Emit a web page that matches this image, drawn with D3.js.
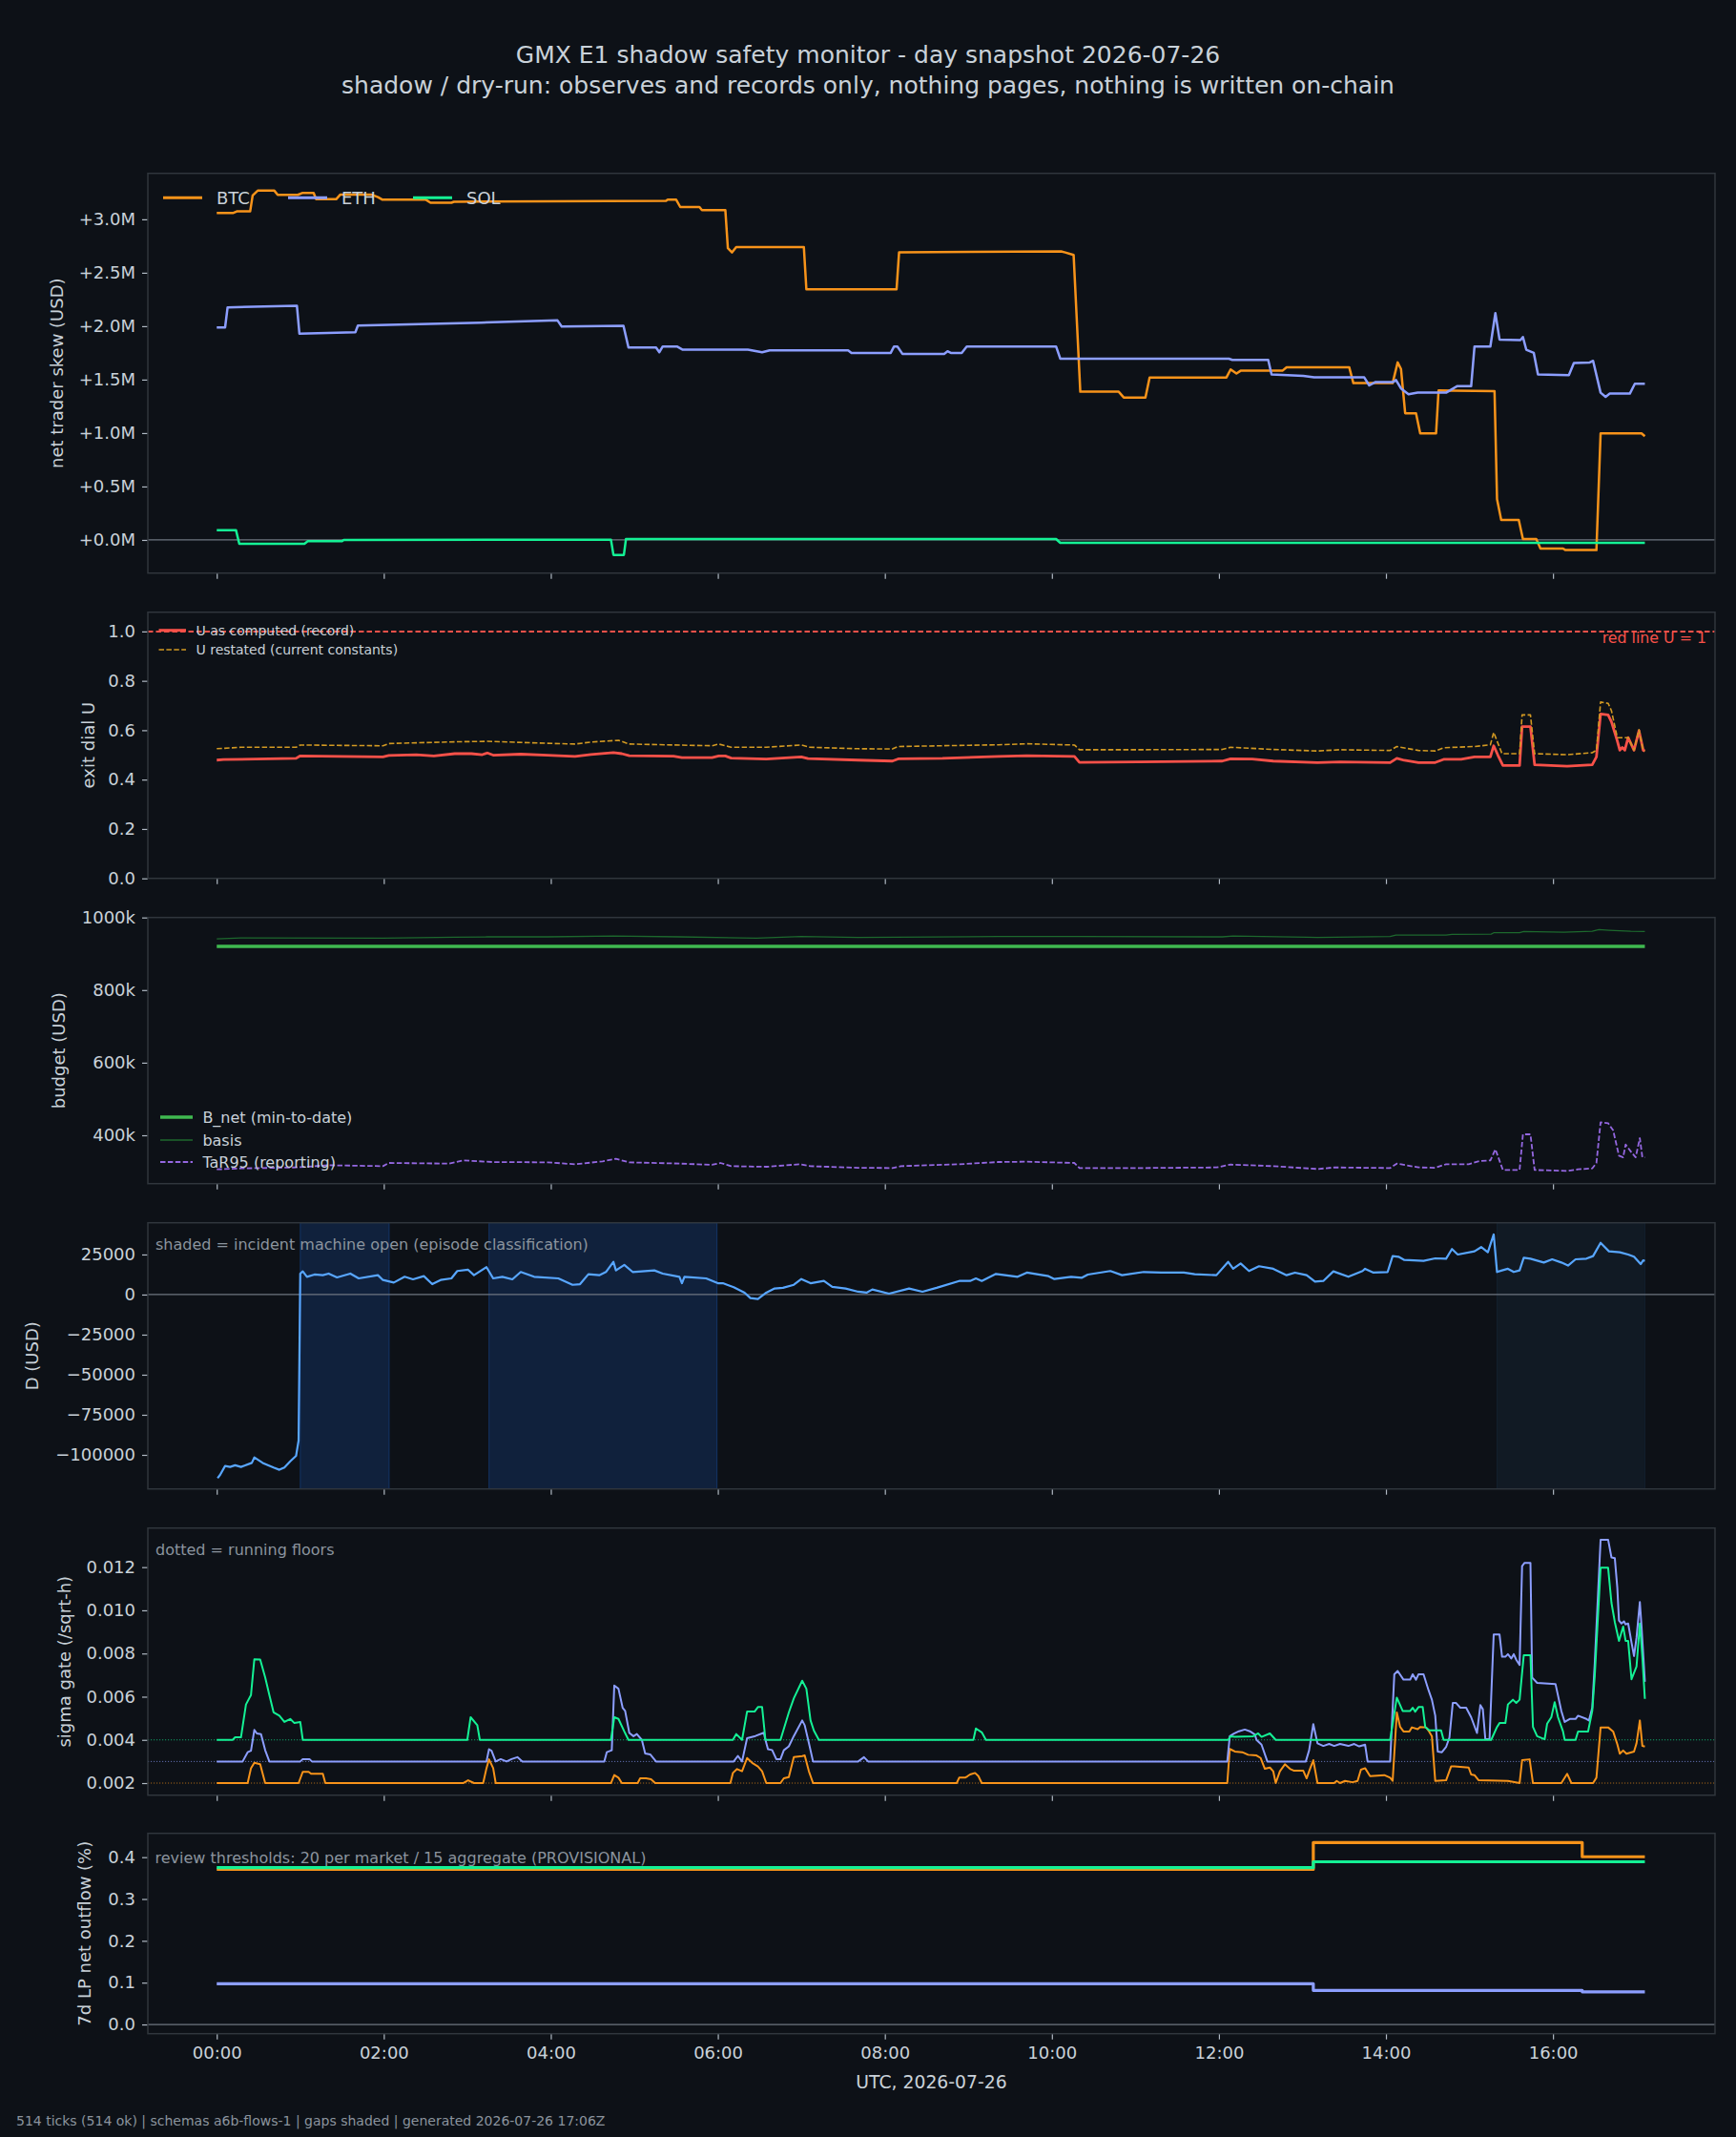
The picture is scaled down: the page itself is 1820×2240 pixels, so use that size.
<!DOCTYPE html>
<html><head><meta charset="utf-8">
<script src="https://cdn.jsdelivr.net/npm/d3@7"></script>
<style>
body{margin:0;background:#0d1117;}
svg{display:block;}
text{font-family:"DejaVu Sans",sans-serif;}
</style>
</head><body>
<svg id="c" width="1820" height="2240"></svg>
<script>
// ---------------- DATA (time in hours UTC, 2026-07-26) ----------------
const hourTicks = [0,2,4,6,8,10,12,14,16];
const hourLabels = ["00:00","02:00","04:00","06:00","08:00","10:00","12:00","14:00","16:00"];
const markets = ["BTC","ETH","SOL"];

// panel 1: net trader skew (millions USD)
const skewBTC = [[0,3.06],[0.20,3.06],[0.24,3.074],[0.40,3.074],[0.43,3.223],[0.49,3.268],[0.69,3.268],[0.73,3.229],[0.97,3.229],[1.03,3.247],[1.16,3.247],[1.19,3.188],[1.43,3.188],[1.48,3.232],[1.85,3.232],[1.93,3.208],[1.98,3.185],[2.50,3.185],[2.56,3.155],[2.81,3.155],[2.84,3.164],[4.0,3.168],[5.38,3.173],[5.40,3.185],[5.50,3.185],[5.55,3.115],[5.78,3.115],[5.81,3.085],[6.09,3.085],[6.12,2.73],[6.17,2.69],[6.22,2.74],[7.03,2.74],[7.06,2.345],[8.14,2.345],[8.17,2.69],[10.11,2.70],[10.16,2.69],[10.26,2.667],[10.34,1.387],[10.80,1.387],[10.86,1.333],[11.12,1.333],[11.17,1.52],[12.09,1.52],[12.14,1.595],[12.21,1.557],[12.26,1.583],[12.76,1.583],[12.81,1.616],[13.56,1.616],[13.61,1.467],[14.08,1.467],[14.14,1.661],[14.18,1.60],[14.23,1.185],[14.36,1.185],[14.41,0.997],[14.60,0.997],[14.63,1.399],[15.30,1.393],[15.33,0.381],[15.38,0.188],[15.59,0.188],[15.64,0.009],[15.80,0.009],[15.85,-0.08],[16.12,-0.08],[16.15,-0.095],[16.52,-0.095],[16.57,0.997],[17.06,0.997],[17.10,0.970]];
const skewETH = [[0,1.988],[0.10,1.988],[0.13,2.176],[0.96,2.190],[0.99,1.929],[1.66,1.943],[1.69,2.006],[3.16,2.033],[4.08,2.054],[4.13,1.997],[4.87,2.003],[4.93,1.801],[5.26,1.801],[5.30,1.756],[5.34,1.810],[5.51,1.810],[5.58,1.780],[6.36,1.780],[6.53,1.756],[6.62,1.774],[7.56,1.774],[7.60,1.750],[8.07,1.750],[8.11,1.810],[8.15,1.810],[8.21,1.741],[8.71,1.741],[8.75,1.765],[8.79,1.750],[8.92,1.750],[8.98,1.810],[10.05,1.810],[10.10,1.696],[12.12,1.696],[12.16,1.685],[12.59,1.685],[12.63,1.548],[13.01,1.536],[13.14,1.521],[13.74,1.521],[13.80,1.446],[13.87,1.476],[14.08,1.476],[14.12,1.497],[14.18,1.417],[14.27,1.363],[14.38,1.378],[14.72,1.378],[14.85,1.438],[15.02,1.438],[15.06,1.810],[15.25,1.810],[15.31,2.122],[15.36,1.875],[15.61,1.869],[15.64,1.899],[15.68,1.780],[15.77,1.750],[15.82,1.548],[16.19,1.542],[16.25,1.655],[16.44,1.661],[16.48,1.676],[16.57,1.378],[16.63,1.339],[16.68,1.369],[16.92,1.369],[16.98,1.461],[17.10,1.461]];
const skewSOL = [[0,0.092],[0.23,0.092],[0.27,-0.036],[1.05,-0.036],[1.09,-0.012],[1.50,-0.012],[1.52,0.0],[4.72,0.003],[4.75,-0.14],[4.875,-0.14],[4.90,0.009],[10.05,0.009],[10.10,-0.027],[17.10,-0.027]];
const skewTicks = [0,0.5,1.0,1.5,2.0,2.5,3.0];

// panel 2: exit dial U
const uRecord = [[0,0.479],[0.08,0.481],[0.95,0.486],[1.0,0.496],[1.99,0.492],[2.06,0.498],[2.39,0.501],[2.6,0.496],[2.85,0.505],[3.05,0.505],[3.18,0.501],[3.24,0.508],[3.31,0.499],[3.64,0.503],[3.96,0.499],[4.29,0.494],[4.48,0.502],[4.75,0.509],[4.85,0.505],[4.94,0.497],[5.47,0.495],[5.57,0.489],[5.93,0.489],[6.01,0.496],[6.09,0.496],[6.16,0.487],[6.58,0.483],[7.0,0.492],[7.08,0.485],[7.68,0.479],[8.09,0.475],[8.16,0.484],[8.69,0.486],[9.36,0.494],[9.70,0.497],[10.27,0.494],[10.33,0.470],[11.03,0.472],[12.04,0.475],[12.14,0.484],[12.40,0.483],[12.65,0.475],[13.18,0.469],[13.45,0.472],[14.05,0.469],[14.13,0.486],[14.22,0.478],[14.39,0.469],[14.59,0.469],[14.69,0.482],[14.90,0.482],[15.06,0.492],[15.25,0.492],[15.29,0.537],[15.34,0.499],[15.40,0.457],[15.60,0.457],[15.63,0.615],[15.73,0.615],[15.78,0.460],[16.17,0.454],[16.47,0.460],[16.52,0.492],[16.57,0.666],[16.66,0.662],[16.70,0.634],[16.77,0.557],[16.80,0.519],[16.83,0.530],[16.86,0.519],[16.90,0.570],[16.97,0.519],[17.03,0.598],[17.08,0.519],[17.10,0.516]];
const uRestated = [[0,0.525],[0.29,0.531],[0.95,0.531],[1.0,0.540],[1.99,0.537],[2.06,0.546],[2.85,0.553],[3.24,0.555],[3.96,0.547],[4.29,0.544],[4.48,0.552],[4.81,0.559],[4.94,0.544],[5.93,0.537],[6.01,0.544],[6.16,0.531],[6.58,0.531],[7.0,0.540],[7.1,0.531],[7.68,0.525],[8.09,0.524],[8.16,0.534],[9.36,0.541],[9.70,0.545],[10.27,0.540],[10.33,0.521],[11.03,0.521],[12.04,0.522],[12.14,0.531],[12.65,0.522],[13.18,0.516],[13.45,0.521],[14.05,0.518],[14.13,0.534],[14.39,0.518],[14.59,0.516],[14.69,0.529],[15.06,0.534],[15.25,0.541],[15.29,0.591],[15.39,0.505],[15.60,0.505],[15.63,0.662],[15.73,0.662],[15.78,0.505],[16.17,0.501],[16.47,0.509],[16.52,0.519],[16.57,0.714],[16.66,0.709],[16.70,0.679],[16.77,0.570],[16.90,0.570],[16.97,0.519],[17.03,0.602],[17.08,0.519],[17.10,0.516]];
const uRedLine = 1.0;
const uTicks = [0,0.2,0.4,0.6,0.8,1.0];

// panel 3: budget (thousands USD)
const bNet = [[0,920.3],[17.10,920.3]];
const basis = [[0,941.3],[0.29,943.9],[1.99,943.0],[2.85,945.7],[3.24,946.6],[3.96,946.6],[4.75,949.2],[5.54,946.6],[6.46,943.0],[7.0,947.4],[7.68,944.8],[9.36,947.4],[10.29,947.4],[12.04,946.6],[12.17,949.2],[13.05,945.7],[13.18,944.8],[14.05,947.4],[14.12,951.8],[14.72,951.8],[14.79,953.5],[15.26,954.4],[15.29,957.9],[15.60,957.9],[15.65,961.5],[16.13,959.7],[16.47,962.3],[16.55,966.7],[16.67,964.9],[16.93,962.3],[17.10,961.5]];
const tar95 = [[0,306.2],[0.29,308.8],[0.95,311.5],[1.34,317.6],[1.99,315.0],[2.06,323.8],[2.78,322.1],[2.95,330.8],[3.30,326.4],[3.96,325.5],[4.29,320.3],[4.62,328.2],[4.78,335.2],[4.94,325.5],[5.54,322.1],[5.93,318.6],[6.03,323.8],[6.16,315.0],[6.58,313.3],[6.98,320.3],[7.11,315.0],[7.68,310.6],[8.09,309.8],[8.19,315.0],[8.89,320.3],[9.36,326.4],[9.70,327.3],[10.27,323.8],[10.33,309.8],[11.03,309.8],[11.97,311.5],[12.14,319.4],[12.65,315.0],[13.18,307.1],[13.38,311.5],[14.05,309.8],[14.13,322.1],[14.39,311.5],[14.59,310.6],[14.72,320.3],[14.99,320.3],[15.12,329.1],[15.25,330.8],[15.31,361.5],[15.40,304.5],[15.60,304.5],[15.64,402.7],[15.73,402.7],[15.78,304.5],[16.17,301.8],[16.30,306.2],[16.47,308.8],[16.52,323.8],[16.57,435.9],[16.66,433.3],[16.72,414.0],[16.79,343.9],[16.84,339.5],[16.87,374.6],[16.94,352.7],[16.99,339.5],[17.04,392.1],[17.07,339.5],[17.10,339.5]];
const budgetTicks = [400,600,800,1000];

// panel 4: D (USD)
const dUsd = [[0.01,-114500],[0.04,-112500],[0.10,-106900],[0.16,-107500],[0.22,-106500],[0.29,-107500],[0.42,-105000],[0.45,-101600],[0.55,-105000],[0.68,-107900],[0.75,-109300],[0.81,-107900],[0.88,-104000],[0.95,-100600],[0.98,-91100],[1.00,13100],[1.03,14500],[1.08,11100],[1.17,12500],[1.27,12100],[1.34,13100],[1.44,10700],[1.60,13100],[1.70,10100],[1.93,12100],[1.99,9100],[2.12,7500],[2.25,11100],[2.35,9500],[2.48,11500],[2.58,6500],[2.68,9100],[2.81,10100],[2.88,14700],[3.01,15500],[3.08,12100],[3.23,17100],[3.31,10100],[3.42,11100],[3.54,9500],[3.64,14100],[3.80,11100],[4.09,10100],[4.26,6100],[4.35,6500],[4.45,12700],[4.58,12100],[4.66,14100],[4.75,20400],[4.78,15100],[4.88,18500],[4.98,14100],[5.24,15100],[5.34,13100],[5.54,11100],[5.57,7100],[5.60,11100],[5.86,10100],[6.00,7100],[6.06,7100],[6.19,4600],[6.32,1200],[6.39,-2200],[6.48,-2800],[6.58,1200],[6.68,3800],[6.78,4200],[6.91,6100],[7.00,9700],[7.11,7100],[7.27,8500],[7.37,4800],[7.53,3800],[7.68,1800],[7.78,1200],[7.85,3200],[8.05,600],[8.29,3800],[8.45,1800],[8.62,4200],[8.89,8500],[9.02,8500],[9.09,10100],[9.16,8500],[9.33,12900],[9.59,11100],[9.70,13700],[9.96,11500],[10.03,9700],[10.23,11100],[10.36,10500],[10.43,12500],[10.70,14700],[10.84,12100],[11.10,14100],[11.31,13700],[11.58,13700],[11.71,12700],[11.97,12100],[12.11,20400],[12.17,16100],[12.26,19400],[12.36,14700],[12.48,17700],[12.65,16100],[12.81,12100],[12.91,13700],[13.05,12100],[13.15,8100],[13.25,8500],[13.37,14500],[13.55,11100],[13.72,14700],[13.75,16100],[13.85,13700],[14.02,14100],[14.08,24000],[14.15,23600],[14.22,21600],[14.45,21000],[14.59,22600],[14.72,22400],[14.79,28400],[14.86,25000],[15.06,27000],[15.14,29600],[15.22,26400],[15.29,37500],[15.33,14100],[15.39,15100],[15.46,16100],[15.53,14100],[15.60,15100],[15.65,23000],[15.73,22400],[15.89,20000],[15.99,22000],[16.10,20000],[16.18,18100],[16.27,22000],[16.40,22400],[16.48,24000],[16.57,32300],[16.67,27000],[16.80,26400],[16.90,25000],[16.97,23600],[17.05,19000],[17.08,21400],[17.10,21000]];
const dTicks = [-100000,-75000,-50000,-25000,0,25000];
const incidentEpisodes = [[1.0,2.065],[3.26,5.99]];
const openEpisodes = [[15.33,17.10]];

// panel 5: sigma gate (/sqrt-h)
const sigmaBTC = [[0,0.002],[0.37,0.002],[0.41,0.00269],[0.45,0.00294],[0.52,0.00287],[0.58,0.002],[0.98,0.002],[1.03,0.00252],[1.10,0.00252],[1.13,0.00243],[1.27,0.00243],[1.30,0.002],[2.95,0.002],[3.01,0.00213],[3.08,0.002],[3.19,0.002],[3.23,0.00269],[3.26,0.0031],[3.31,0.00269],[3.34,0.002],[4.72,0.002],[4.76,0.00237],[4.81,0.00225],[4.85,0.002],[5.04,0.002],[5.07,0.00222],[5.14,0.00222],[5.20,0.00218],[5.25,0.002],[6.15,0.002],[6.18,0.00247],[6.23,0.00265],[6.29,0.00255],[6.35,0.00316],[6.42,0.00291],[6.48,0.00277],[6.53,0.00255],[6.58,0.002],[6.75,0.002],[6.79,0.00222],[6.85,0.00228],[6.91,0.00321],[7.01,0.00325],[7.04,0.00328],[7.09,0.00255],[7.14,0.002],[8.86,0.002],[8.89,0.00225],[8.96,0.00225],[8.99,0.00232],[9.02,0.0024],[9.08,0.00247],[9.12,0.00232],[9.16,0.002],[12.10,0.002],[12.13,0.00358],[12.19,0.00346],[12.28,0.00343],[12.35,0.00331],[12.45,0.00328],[12.50,0.00316],[12.55,0.00266],[12.61,0.00272],[12.65,0.00255],[12.68,0.002],[12.73,0.00255],[12.79,0.00287],[12.85,0.00266],[12.90,0.00257],[13.01,0.00257],[13.05,0.00222],[13.08,0.00255],[13.13,0.00306],[13.18,0.002],[13.38,0.002],[13.41,0.0021],[13.45,0.002],[13.51,0.0021],[13.60,0.00204],[13.66,0.0021],[13.70,0.00262],[13.75,0.00269],[13.81,0.00232],[13.98,0.00237],[14.05,0.00225],[14.08,0.0021],[14.13,0.00527],[14.17,0.0046],[14.21,0.00439],[14.28,0.00439],[14.31,0.00458],[14.38,0.0045],[14.41,0.0046],[14.48,0.00458],[14.51,0.00443],[14.55,0.00417],[14.59,0.0021],[14.72,0.00213],[14.78,0.00277],[14.82,0.00277],[14.99,0.00272],[15.02,0.0024],[15.06,0.00237],[15.11,0.00213],[15.46,0.0021],[15.60,0.002],[15.63,0.00306],[15.72,0.0031],[15.76,0.002],[16.10,0.002],[16.17,0.00243],[16.22,0.002],[16.48,0.002],[16.52,0.00225],[16.57,0.00458],[16.66,0.00458],[16.72,0.00439],[16.77,0.0038],[16.80,0.00336],[16.84,0.00351],[16.88,0.00336],[16.97,0.00346],[17.00,0.00384],[17.04,0.0049],[17.07,0.00372],[17.10,0.00369]];
const sigmaETH = [[0,0.003],[0.31,0.003],[0.37,0.00343],[0.41,0.0035],[0.45,0.00446],[0.48,0.0043],[0.53,0.00427],[0.58,0.00352],[0.63,0.003],[1.0,0.003],[1.03,0.00311],[1.11,0.00311],[1.14,0.003],[3.23,0.003],[3.26,0.00357],[3.29,0.0035],[3.34,0.003],[3.40,0.00311],[3.47,0.003],[3.53,0.00311],[3.60,0.0032],[3.66,0.003],[4.64,0.003],[4.67,0.00343],[4.73,0.00352],[4.76,0.00652],[4.81,0.00637],[4.86,0.00549],[4.89,0.00534],[4.94,0.00432],[4.99,0.00417],[5.03,0.00427],[5.09,0.004],[5.13,0.00337],[5.19,0.00333],[5.26,0.003],[6.19,0.003],[6.24,0.00326],[6.29,0.003],[6.35,0.00408],[6.45,0.00418],[6.55,0.00433],[6.57,0.004],[6.60,0.00357],[6.65,0.00353],[6.70,0.00311],[6.75,0.00311],[6.79,0.00352],[6.85,0.0037],[6.91,0.00418],[7.01,0.0049],[7.04,0.00468],[7.09,0.00386],[7.14,0.003],[7.68,0.003],[7.75,0.0032],[7.80,0.003],[12.10,0.003],[12.13,0.00417],[12.18,0.00429],[12.24,0.0044],[12.31,0.00448],[12.37,0.0044],[12.43,0.00425],[12.45,0.004],[12.51,0.00378],[12.58,0.003],[13.04,0.003],[13.08,0.00352],[13.13,0.00473],[13.18,0.00384],[13.25,0.00372],[13.32,0.00381],[13.38,0.00372],[13.45,0.00381],[13.55,0.00372],[13.62,0.00381],[13.68,0.0037],[13.75,0.00378],[13.78,0.003],[14.05,0.003],[14.10,0.00704],[14.14,0.00719],[14.21,0.00679],[14.29,0.00679],[14.32,0.00704],[14.36,0.00679],[14.39,0.00704],[14.45,0.00704],[14.51,0.0063],[14.55,0.00586],[14.59,0.00512],[14.62,0.00346],[14.67,0.00343],[14.72,0.00367],[14.76,0.00411],[14.80,0.00571],[14.84,0.00571],[14.89,0.00549],[14.96,0.00549],[15.02,0.00505],[15.09,0.00432],[15.13,0.00561],[15.16,0.00542],[15.19,0.00403],[15.24,0.00403],[15.29,0.00888],[15.36,0.00888],[15.39,0.00785],[15.43,0.00785],[15.46,0.00797],[15.50,0.00777],[15.53,0.00797],[15.56,0.00771],[15.60,0.00747],[15.63,0.01205],[15.66,0.0122],[15.73,0.0122],[15.75,0.00689],[15.81,0.00664],[16.03,0.00659],[16.10,0.00534],[16.14,0.00483],[16.20,0.00497],[16.27,0.00497],[16.30,0.00512],[16.40,0.00497],[16.43,0.0049],[16.47,0.00549],[16.50,0.00755],[16.57,0.01327],[16.66,0.01327],[16.70,0.01245],[16.74,0.01242],[16.77,0.01105],[16.79,0.00953],[16.82,0.00939],[16.85,0.00949],[16.87,0.00935],[16.90,0.00939],[16.94,0.00851],[16.97,0.00788],[17.00,0.00873],[17.04,0.01038],[17.06,0.00925],[17.10,0.00669]];
const sigmaSOL = [[0,0.004],[0.19,0.004],[0.22,0.00412],[0.29,0.00412],[0.35,0.00564],[0.41,0.00608],[0.45,0.00773],[0.52,0.00772],[0.58,0.00689],[0.63,0.00608],[0.68,0.00528],[0.75,0.00512],[0.81,0.00483],[0.88,0.00497],[0.93,0.00478],[1.0,0.00483],[1.03,0.004],[3.0,0.004],[3.04,0.00505],[3.12,0.00468],[3.15,0.004],[4.72,0.004],[4.76,0.00505],[4.81,0.00497],[4.88,0.00439],[4.93,0.004],[6.18,0.004],[6.22,0.00427],[6.29,0.004],[6.35,0.00531],[6.44,0.00531],[6.48,0.00552],[6.53,0.00552],[6.57,0.004],[6.75,0.004],[6.85,0.00527],[6.91,0.00593],[7.01,0.00674],[7.06,0.00637],[7.11,0.0049],[7.15,0.00443],[7.21,0.004],[9.06,0.004],[9.09,0.00453],[9.16,0.00435],[9.21,0.004],[12.11,0.004],[12.14,0.00417],[12.19,0.00414],[12.41,0.00417],[12.47,0.0043],[12.51,0.00414],[12.61,0.0043],[12.68,0.004],[14.05,0.004],[14.13,0.00596],[14.20,0.00534],[14.29,0.00534],[14.32,0.00549],[14.35,0.00531],[14.39,0.00552],[14.44,0.00552],[14.47,0.0046],[14.52,0.00444],[14.66,0.00444],[14.69,0.004],[15.26,0.004],[15.33,0.0046],[15.36,0.00478],[15.43,0.00478],[15.46,0.00564],[15.52,0.00586],[15.56,0.00571],[15.60,0.00586],[15.65,0.00792],[15.73,0.00792],[15.76,0.0046],[15.81,0.00417],[15.90,0.00403],[15.93,0.00475],[15.98,0.00505],[16.02,0.00575],[16.06,0.00505],[16.12,0.00439],[16.14,0.004],[16.27,0.004],[16.30,0.00439],[16.42,0.00439],[16.47,0.00534],[16.50,0.00696],[16.57,0.01197],[16.66,0.01197],[16.70,0.01035],[16.74,0.00946],[16.79,0.00858],[16.84,0.00925],[16.87,0.00858],[16.90,0.00858],[16.94,0.00681],[17.00,0.0074],[17.04,0.00939],[17.07,0.00785],[17.10,0.0059]];
const sigmaFloors = [0.002,0.003,0.004]; // BTC, ETH, SOL running floors
const sigmaTicks = [0.002,0.004,0.006,0.008,0.010,0.012];

// panel 6: 7d LP net outflow (%)
const outflowBTC = [[0,0.371],[13.13,0.435],[16.35,0.401],[17.10,0.401]];
const outflowETH = [[0,0.0975],[13.13,0.0815],[16.35,0.078],[17.10,0.078]];
const outflowSOL = [[0,0.375],[13.13,0.389],[17.10,0.389]];
const outflowTicks = [0,0.1,0.2,0.3,0.4];

// ---------------- STYLE / LAYOUT ----------------
const BG="#0d1117", SPINE="#30363d", TXT="#c9d1d9", MUTED="#8b949e", ZERO="#6e7681";
const C = {BTC:"#f7931a", ETH:"#8c9eff", SOL:"#14f195"};
const FONT_TICK=18;
const svg = d3.select("#c");
svg.append("rect").attr("width",1820).attr("height",2240).attr("fill",BG);

const X0=155, X1=1798;
const x = d3.scaleLinear().domain([-0.825,17.94]).range([X0,X1]);

const panels = [
  {top:181.7,bottom:600.7,dom:[-0.31,3.43],ticks:skewTicks,fmt:d=>"+"+d.toFixed(1)+"M",label:"net trader skew (USD)",lx:66},
  {top:641.7,bottom:920.7,dom:[0,1.078],ticks:uTicks,fmt:d=>d.toFixed(1),label:"exit dial U",lx:98.5},
  {top:961.7,bottom:1240.7,dom:[266.8,1000],ticks:budgetTicks,fmt:d=>d+"k",label:"budget (USD)",lx:68},
  {top:1281.7,bottom:1560.7,dom:[-121250,44800],ticks:dTicks,fmt:d=>d<0?"\u2212"+Math.abs(d):String(d),label:"D (USD)",lx:39.5},
  {top:1601.7,bottom:1881.7,dom:[0.00144,0.01381],ticks:sigmaTicks,fmt:d=>d.toFixed(3),label:"sigma gate (/sqrt-h)",lx:74},
  {top:1921.7,bottom:2131.7,dom:[-0.022,0.457],ticks:outflowTicks,fmt:d=>d.toFixed(1),label:"7d LP net outflow (%)",lx:94.5}
];

const defs = svg.append("defs");
panels.forEach((p,i)=>{
  p.y = d3.scaleLinear().domain(p.dom).range([p.bottom,p.top]);
  defs.append("clipPath").attr("id","clip"+i).append("rect")
    .attr("x",X0).attr("y",p.top).attr("width",X1-X0).attr("height",p.bottom-p.top);
  p.g = svg.append("g");
  p.plot = p.g.append("g").attr("clip-path",`url(#clip${i})`);
});

function line(p, data, color, w, opts={}){
  const gen = d3.line().x(d=>x(d[0])).y(d=>p.y(d[1])).curve(opts.curve||d3.curveLinear);
  return p.plot.append("path").datum(data).attr("d",gen).attr("fill","none")
    .attr("stroke",color).attr("stroke-width",w)
    .attr("stroke-linejoin","round").attr("stroke-linecap",opts.cap||"butt")
    .attr("stroke-dasharray",opts.dash||null).attr("opacity",opts.op==null?1:opts.op);
}
function hline(p, v, color, w, dash, op){
  p.plot.append("line").attr("x1",X0).attr("x2",X1).attr("y1",p.y(v)).attr("y2",p.y(v))
    .attr("stroke",color).attr("stroke-width",w).attr("stroke-dasharray",dash||null).attr("opacity",op==null?1:op);
}

// --- panel 4 shading (behind)
const p4 = panels[3];
incidentEpisodes.forEach(e=>{
  p4.plot.append("rect").attr("x",x(e[0])).attr("width",x(e[1])-x(e[0]))
    .attr("y",p4.top).attr("height",p4.bottom-p4.top)
    .attr("fill","#1f6feb").attr("fill-opacity",0.18)
    .attr("stroke","#1f6feb").attr("stroke-opacity",0.3).attr("stroke-width",1);
});
openEpisodes.forEach(e=>{
  p4.plot.append("rect").attr("x",x(e[0])).attr("width",x(e[1])-x(e[0]))
    .attr("y",p4.top).attr("height",p4.bottom-p4.top)
    .attr("fill","#58a6ff").attr("fill-opacity",0.06)
    .attr("stroke","#58a6ff").attr("stroke-opacity",0.08).attr("stroke-width",1);
});

// --- panel 1
const p1 = panels[0];
hline(p1,0,ZERO,1.2);
line(p1,skewBTC,C.BTC,2.5);
line(p1,skewETH,C.ETH,2.5);
line(p1,skewSOL,C.SOL,2.5);

// --- panel 2
const p2 = panels[1];
hline(p2,uRedLine,"#f85149",2,"5.5,3");
line(p2,uRecord,"#f85149",2.8);
line(p2,uRestated,"#d29922",1.6,{dash:"5.5,2.4"});

// --- panel 3
const p3 = panels[2];
line(p3,basis,"#238636",1.3,{op:0.75});
line(p3,bNet,"#3fb950",3.5);
line(p3,tar95,"#a371f7",1.8,{dash:"5.5,2.4",op:0.9});

// --- panel 4
hline(p4,0,ZERO,1.2);
line(p4,dUsd,"#58a6ff",2.2);

// --- panel 5
const p5 = panels[4];
hline(p5,sigmaFloors[2],C.SOL,1,"1.2,1.8",0.65);
hline(p5,sigmaFloors[1],C.ETH,1,"1.2,1.8",0.65);
hline(p5,sigmaFloors[0],C.BTC,1,"1.2,1.8",0.65);
line(p5,sigmaBTC,C.BTC,2);
line(p5,sigmaETH,C.ETH,2);
line(p5,sigmaSOL,C.SOL,2);

// --- panel 6
const p6 = panels[5];
hline(p6,0,ZERO,1.2);
line(p6,outflowBTC,C.BTC,3.2,{curve:d3.curveStepAfter});
line(p6,outflowETH,C.ETH,3.2,{curve:d3.curveStepAfter});
line(p6,outflowSOL,C.SOL,3.2,{curve:d3.curveStepAfter});

// --- axes, spines, labels
panels.forEach((p,i)=>{
  const ya = d3.axisLeft(p.y).tickValues(p.ticks).tickFormat(p.fmt).tickSize(6).tickPadding(7);
  const gy = p.g.append("g").attr("transform",`translate(${X0},0)`).call(ya);
  const last = i===panels.length-1;
  const xa = d3.axisBottom(x).tickValues(hourTicks).tickSize(6).tickPadding(8)
    .tickFormat((d,k)=> last ? hourLabels[k] : "");
  const gx = p.g.append("g").attr("transform",`translate(0,${p.bottom})`).call(xa);
  [gy,gx].forEach(g=>{
    g.select(".domain").remove();
    g.selectAll(".tick line").attr("stroke","#b1bac4").attr("stroke-width",1.2);
    g.selectAll(".tick text").attr("fill",TXT).attr("font-size",FONT_TICK)
      .attr("font-family","DejaVu Sans");
  });
  p.g.append("rect").attr("x",X0).attr("y",p.top).attr("width",X1-X0).attr("height",p.bottom-p.top)
    .attr("fill","none").attr("stroke",SPINE).attr("stroke-width",1.5);
  const cy=(p.top+p.bottom)/2;
  p.g.append("text").attr("transform",`translate(${p.lx},${cy}) rotate(-90)`)
    .attr("text-anchor","middle").attr("fill",TXT).attr("font-size",FONT_TICK).text(p.label);
});

// x axis label
svg.append("text").attr("x",(X0+X1)/2).attr("y",2189).attr("text-anchor","middle")
  .attr("fill",TXT).attr("font-size",18.8).text("UTC, 2026-07-26");

// --- legends
// panel 1 legend
const leg1 = [{n:markets[0],x:171},{n:markets[1],x:302},{n:markets[2],x:433}];
leg1.forEach(l=>{
  svg.append("line").attr("x1",l.x).attr("x2",l.x+41).attr("y1",207.3).attr("y2",207.3)
    .attr("stroke",C[l.n]).attr("stroke-width",3);
  svg.append("text").attr("x",l.x+56).attr("y",207.3).attr("dy","0.36em")
    .attr("fill",TXT).attr("font-size",18).text(l.n);
});
// panel 2 legend
[{t:"U as computed (record)",y:660.7,c:"#f85149",w:3,dash:null},
 {t:"U restated (current constants)",y:681,c:"#d29922",w:1.6,dash:"5.5,2.4"}].forEach(l=>{
  svg.append("line").attr("x1",166.5).attr("x2",195).attr("y1",l.y).attr("y2",l.y)
    .attr("stroke",l.c).attr("stroke-width",l.w).attr("stroke-dasharray",l.dash);
  svg.append("text").attr("x",205.5).attr("y",l.y).attr("dy","0.36em")
    .attr("fill",TXT).attr("font-size",14).text(l.t);
});
svg.append("text").attr("x",1789).attr("y",674).attr("text-anchor","end")
  .attr("fill","#f85149").attr("font-size",15.8).text("red line U = 1");
// panel 3 legend
[{t:"B_net (min-to-date)",y:1171,c:"#3fb950",w:3.5,dash:null,op:1},
 {t:"basis",y:1195,c:"#238636",w:1.3,dash:null,op:0.75},
 {t:"TaR95 (reporting)",y:1218,c:"#a371f7",w:1.8,dash:"5.5,2.4",op:0.9}].forEach(l=>{
  svg.append("line").attr("x1",168).attr("x2",202).attr("y1",l.y).attr("y2",l.y)
    .attr("stroke",l.c).attr("stroke-width",l.w).attr("stroke-dasharray",l.dash).attr("opacity",l.op);
  svg.append("text").attr("x",212.4).attr("y",l.y).attr("dy","0.36em")
    .attr("fill",TXT).attr("font-size",16).text(l.t);
});

// annotations
svg.append("text").attr("x",163).attr("y",1309.5).attr("fill",MUTED).attr("font-size",16)
  .text("shaded = incident machine open (episode classification)");
svg.append("text").attr("x",163).attr("y",1629.5).attr("fill",MUTED).attr("font-size",16)
  .text("dotted = running floors");
svg.append("text").attr("x",162.5).attr("y",1952.5).attr("fill",MUTED).attr("font-size",16)
  .text("review thresholds: 20 per market / 15 aggregate (PROVISIONAL)");

// titles
svg.append("text").attr("x",910).attr("y",66).attr("text-anchor","middle").attr("fill",TXT)
  .attr("font-size",25).text("GMX E1 shadow safety monitor - day snapshot 2026-07-26");
svg.append("text").attr("x",910).attr("y",97.5).attr("text-anchor","middle").attr("fill",TXT)
  .attr("font-size",25).text("shadow / dry-run: observes and records only, nothing pages, nothing is written on-chain");

// footer
svg.append("text").attr("x",17).attr("y",2228).attr("fill",MUTED).attr("font-size",14)
  .text("514 ticks (514 ok) | schemas a6b-flows-1 | gaps shaded | generated 2026-07-26 17:06Z");
</script>
</body></html>
